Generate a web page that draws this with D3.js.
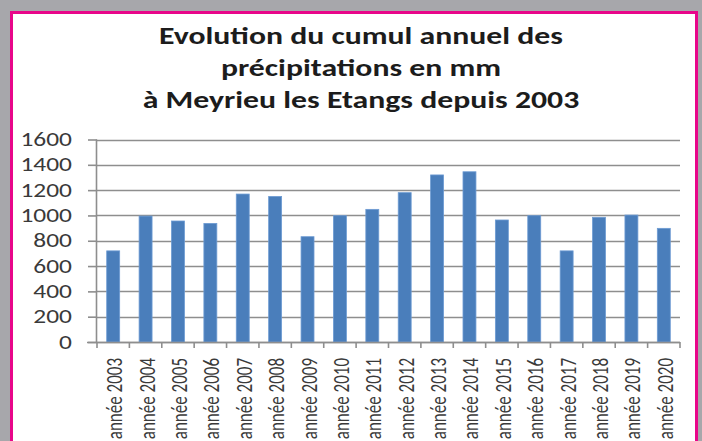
<!DOCTYPE html>
<html><head><meta charset="utf-8">
<script src="https://cdn.jsdelivr.net/npm/d3@7"></script>
<style>html,body{margin:0;padding:0;background:#a7a7ab;overflow:hidden}</style>
</head><body>
<svg id="c" width="702" height="441"></svg>
<script>
const categories = ["année 2003","année 2004","année 2005","année 2006","année 2007","année 2008","année 2009","année 2010","année 2011","année 2012","année 2013","année 2014","année 2015","année 2016","année 2017","année 2018","année 2019","année 2020"];
const values = [720, 995, 956, 937, 1169, 1150, 832, 998, 1048, 1180, 1320, 1345, 964, 998, 720, 985, 1003, 898];
const yTicks = [0,200,400,600,800,1000,1200,1400,1600];
const titleLines = ["Evolution du cumul annuel des","précipitations en mm","à Meyrieu les Etangs depuis 2003"];

const FONT = "Carlito, Lato, 'Open Sans', sans-serif";
const SX = 1.27; // horizontal stretch of the reference image
const svg = d3.select("#c");
svg.append("rect").attr("x",0).attr("y",0).attr("width",702).attr("height",441).attr("fill","#a7a7ab");
svg.append("rect").attr("x",11.5).attr("y",12.5).attr("width",685).attr("height",440)
  .attr("fill","#ffffff").attr("stroke","#e8068a").attr("stroke-width",3);

const pL=97, pR=680, pT=139.5, pB=342;
const x = d3.scaleBand().domain(categories).range([pL,pR]).paddingInner(0.6).paddingOuter(0.3);
const xb = d3.scaleBand().domain(categories).range([pL,pR]);
const y = d3.scaleLinear().domain([0,1600]).range([pB,pT]);

// gridlines
svg.append("g").selectAll("line").data(yTicks).join("line")
  .attr("x1",pL).attr("x2",pR).attr("y1",d=>Math.round(y(d))+0.5).attr("y2",d=>Math.round(y(d))+0.5)
  .attr("stroke","#8e8e8e").attr("stroke-width",1.6);

// y axis
const yAxis = d3.axisLeft(y).tickValues(yTicks).tickSize(9).tickFormat("");
const gy = svg.append("g").attr("transform",`translate(${pL},0)`).call(yAxis);
gy.select(".domain").attr("stroke","#8e8e8e").attr("stroke-width",1.6).attr("d",`M-0.5,${pT}V${pB}`);
gy.selectAll(".tick line").attr("stroke","#8e8e8e").attr("stroke-width",1.6);
gy.selectAll(".tick text").remove();
svg.append("g").selectAll("text").data(yTicks).join("text")
  .attr("transform",d=>`translate(72,${y(d)}) scale(${SX},1)`)
  .attr("text-anchor","end").attr("dy","0.33em")
  .attr("font-family",FONT).attr("font-size",20).attr("fill","#3a3a3a")
  .text(d3.format("d"));

// bars
svg.append("g").selectAll("rect").data(values).join("rect")
  .attr("x",(d,i)=>x(categories[i])).attr("width",x.bandwidth())
  .attr("y",d=>y(d)).attr("height",d=>pB-y(d))
  .attr("fill","#4a7ebb").attr("stroke","#6d9bd3").attr("stroke-width",0.8);

// x axis
const gx = svg.append("g").attr("transform",`translate(0,${pB})`);
gx.append("line").attr("x1",pL-10).attr("x2",pR).attr("y1",0.5).attr("y2",0.5).attr("stroke","#8e8e8e").attr("stroke-width",1.6);
const bounds = categories.map(c=>xb(c)).concat([pR]);
gx.selectAll("line.t").data(bounds).join("line").attr("class","t")
  .attr("x1",d=>d).attr("x2",d=>d).attr("y1",0).attr("y2",6).attr("stroke","#8e8e8e").attr("stroke-width",1.6);
gx.selectAll("text").data(categories).join("text")
  .attr("transform",d=>`translate(${xb(d)+xb.bandwidth()/2+9},16) scale(${SX},1) rotate(-90)`)
  .attr("text-anchor","end")
  .attr("font-family",FONT).attr("font-size",17).attr("fill","#3a3a3a")
  .text(d=>d);

// title
svg.append("g").selectAll("text").data(titleLines).join("text")
  .attr("transform",(d,i)=>`translate(361,${43.5+i*32.3}) scale(${SX},1)`).attr("text-anchor","middle")
  .attr("font-family",FONT).attr("font-weight","bold")
  .attr("font-size",25).attr("fill","#1c1c1c").text(d=>d);
</script>
</body></html>
